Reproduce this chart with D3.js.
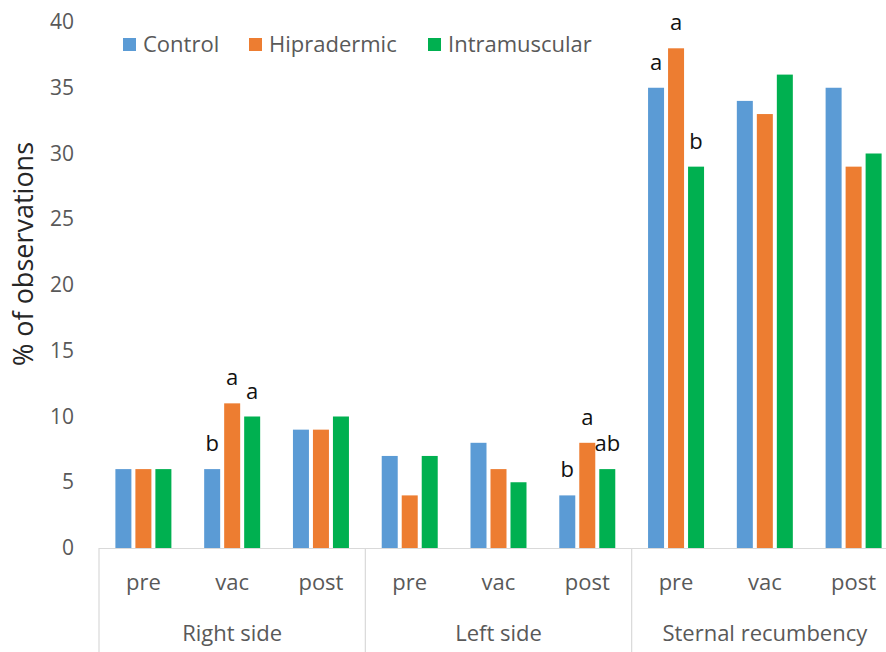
<!DOCTYPE html>
<html>
<head>
<meta charset="utf-8">
<script src="https://cdn.jsdelivr.net/npm/d3@7"></script>
<style>
  body { margin: 0; background: #fff; }
  svg { display: block; font-family: "Open Sans", sans-serif; }
</style>
</head>
<body>
<svg id="chart" width="886" height="652"></svg>
<script>
// Data
var groups = ['Right side', 'Left side', 'Sternal recumbency'];
var phases = ['pre', 'vac', 'post'];
var series = ['Control', 'Hipradermic', 'Intramuscular'];
var control = [6, 6, 9, 7, 8, 4, 35, 34, 35];
var hipradermic = [6, 11, 9, 4, 6, 8, 38, 33, 29];
var intramuscular = [6, 10, 10, 7, 5, 6, 29, 36, 30];
var yTicks = [0, 5, 10, 15, 20, 25, 30, 35, 40];
// significance letters: [group index, phase index, series index, letter]
var letters = [
  [0, 1, 0, 'b'], [0, 1, 1, 'a'], [0, 1, 2, 'a'],
  [1, 2, 0, 'b'], [1, 2, 1, 'a'], [1, 2, 2, 'ab'],
  [2, 0, 0, 'a'], [2, 0, 1, 'a'], [2, 0, 2, 'b']
];

var colors = ['#5B9BD5', '#ED7D31', '#00B050'];
var values = [control, hipradermic, intramuscular];

var margin = {top: 22, left: 99},
    plotRight = 898,
    baseY = 548;

var svg = d3.select('#chart');

// Scales
var yScale = d3.scaleLinear().domain([0, 40]).range([baseY, margin.top]);
var x0 = d3.scaleBand().domain(groups).range([margin.left, plotRight]);
var xCat = d3.scaleBand().domain(phases).range([0, x0.bandwidth()]);
var x1 = d3.scaleBand().domain(series).range([-28, 28]).paddingInner(0.2);

function catCenter(g, p) {
  return x0(groups[g]) + xCat(phases[p]) + xCat.bandwidth() / 2;
}

// Y axis labels
var yAxis = d3.axisLeft(yScale).tickValues(yTicks).tickSize(0).tickPadding(25);
var yg = svg.append('g')
  .attr('transform', 'translate(' + margin.left + ',0)')
  .call(yAxis);
yg.select('.domain').remove();
yg.selectAll('text')
  .attr('fill', '#595959')
  .style('font-size', '21px')
  .style('font-family', '"Open Sans", sans-serif');

// Y title
svg.append('text')
  .attr('transform', 'translate(33,' + 254 + ') rotate(-90)')
  .attr('text-anchor', 'middle')
  .attr('fill', '#262626')
  .style('font-size', '27px')
  .text('% of observations');

// Bars
var barData = [];
values.forEach(function(vals, s) {
  vals.forEach(function(v, i) {
    barData.push({g: Math.floor(i / 3), p: i % 3, s: s, v: v});
  });
});

svg.append('g').selectAll('rect')
  .data(barData)
  .enter().append('rect')
  .attr('x', function(d) { return catCenter(d.g, d.p) + x1(series[d.s]); })
  .attr('width', x1.bandwidth())
  .attr('y', function(d) { return yScale(d.v); })
  .attr('height', function(d) { return baseY - yScale(d.v); })
  .attr('fill', function(d) { return colors[d.s]; });

// Baseline and category dividers
var axisG = svg.append('g').attr('stroke', '#d9d9d9').attr('stroke-width', 1.2);
axisG.append('line')
  .attr('x1', margin.left).attr('x2', plotRight)
  .attr('y1', baseY + 0.5).attr('y2', baseY + 0.5);
axisG.selectAll('.div')
  .data(groups.concat(['end']))
  .enter().append('line')
  .attr('x1', function(d, i) { return i < groups.length ? x0(d) : plotRight; })
  .attr('x2', function(d, i) { return i < groups.length ? x0(d) : plotRight; })
  .attr('y1', baseY)
  .attr('y2', 652);

// Phase labels
groups.forEach(function(gname, g) {
  phases.forEach(function(p, pi) {
    svg.append('text')
      .attr('x', catCenter(g, pi))
      .attr('y', 590)
      .attr('text-anchor', 'middle')
      .attr('fill', '#595959')
      .style('font-size', '22px')
      .text(p);
  });
  svg.append('text')
    .attr('x', x0(gname) + x0.bandwidth() / 2)
    .attr('y', 641)
    .attr('text-anchor', 'middle')
    .attr('fill', '#595959')
    .style('font-size', '22px')
    .text(gname);
});

// Significance letters
svg.append('g').selectAll('text')
  .data(letters)
  .enter().append('text')
  .attr('x', function(d) { return catCenter(d[0], d[1]) + x1(series[d[2]]) + x1.bandwidth() / 2; })
  .attr('y', function(d) { return yScale(values[d[2]][d[0] * 3 + d[1]]) - 18; })
  .attr('text-anchor', 'middle')
  .attr('fill', '#111')
  .style('font-size', '22px')
  .text(function(d) { return d[3]; });

// Legend
var legendX = [123, 249, 428];
var legend = svg.append('g');
series.forEach(function(s, i) {
  legend.append('rect')
    .attr('x', legendX[i]).attr('y', 38)
    .attr('width', 13).attr('height', 13)
    .attr('fill', colors[i]);
  legend.append('text')
    .attr('x', legendX[i] + 20).attr('y', 52)
    .attr('fill', '#595959')
    .style('font-size', '22px')
    .text(s);
});
</script>
</body>
</html>
